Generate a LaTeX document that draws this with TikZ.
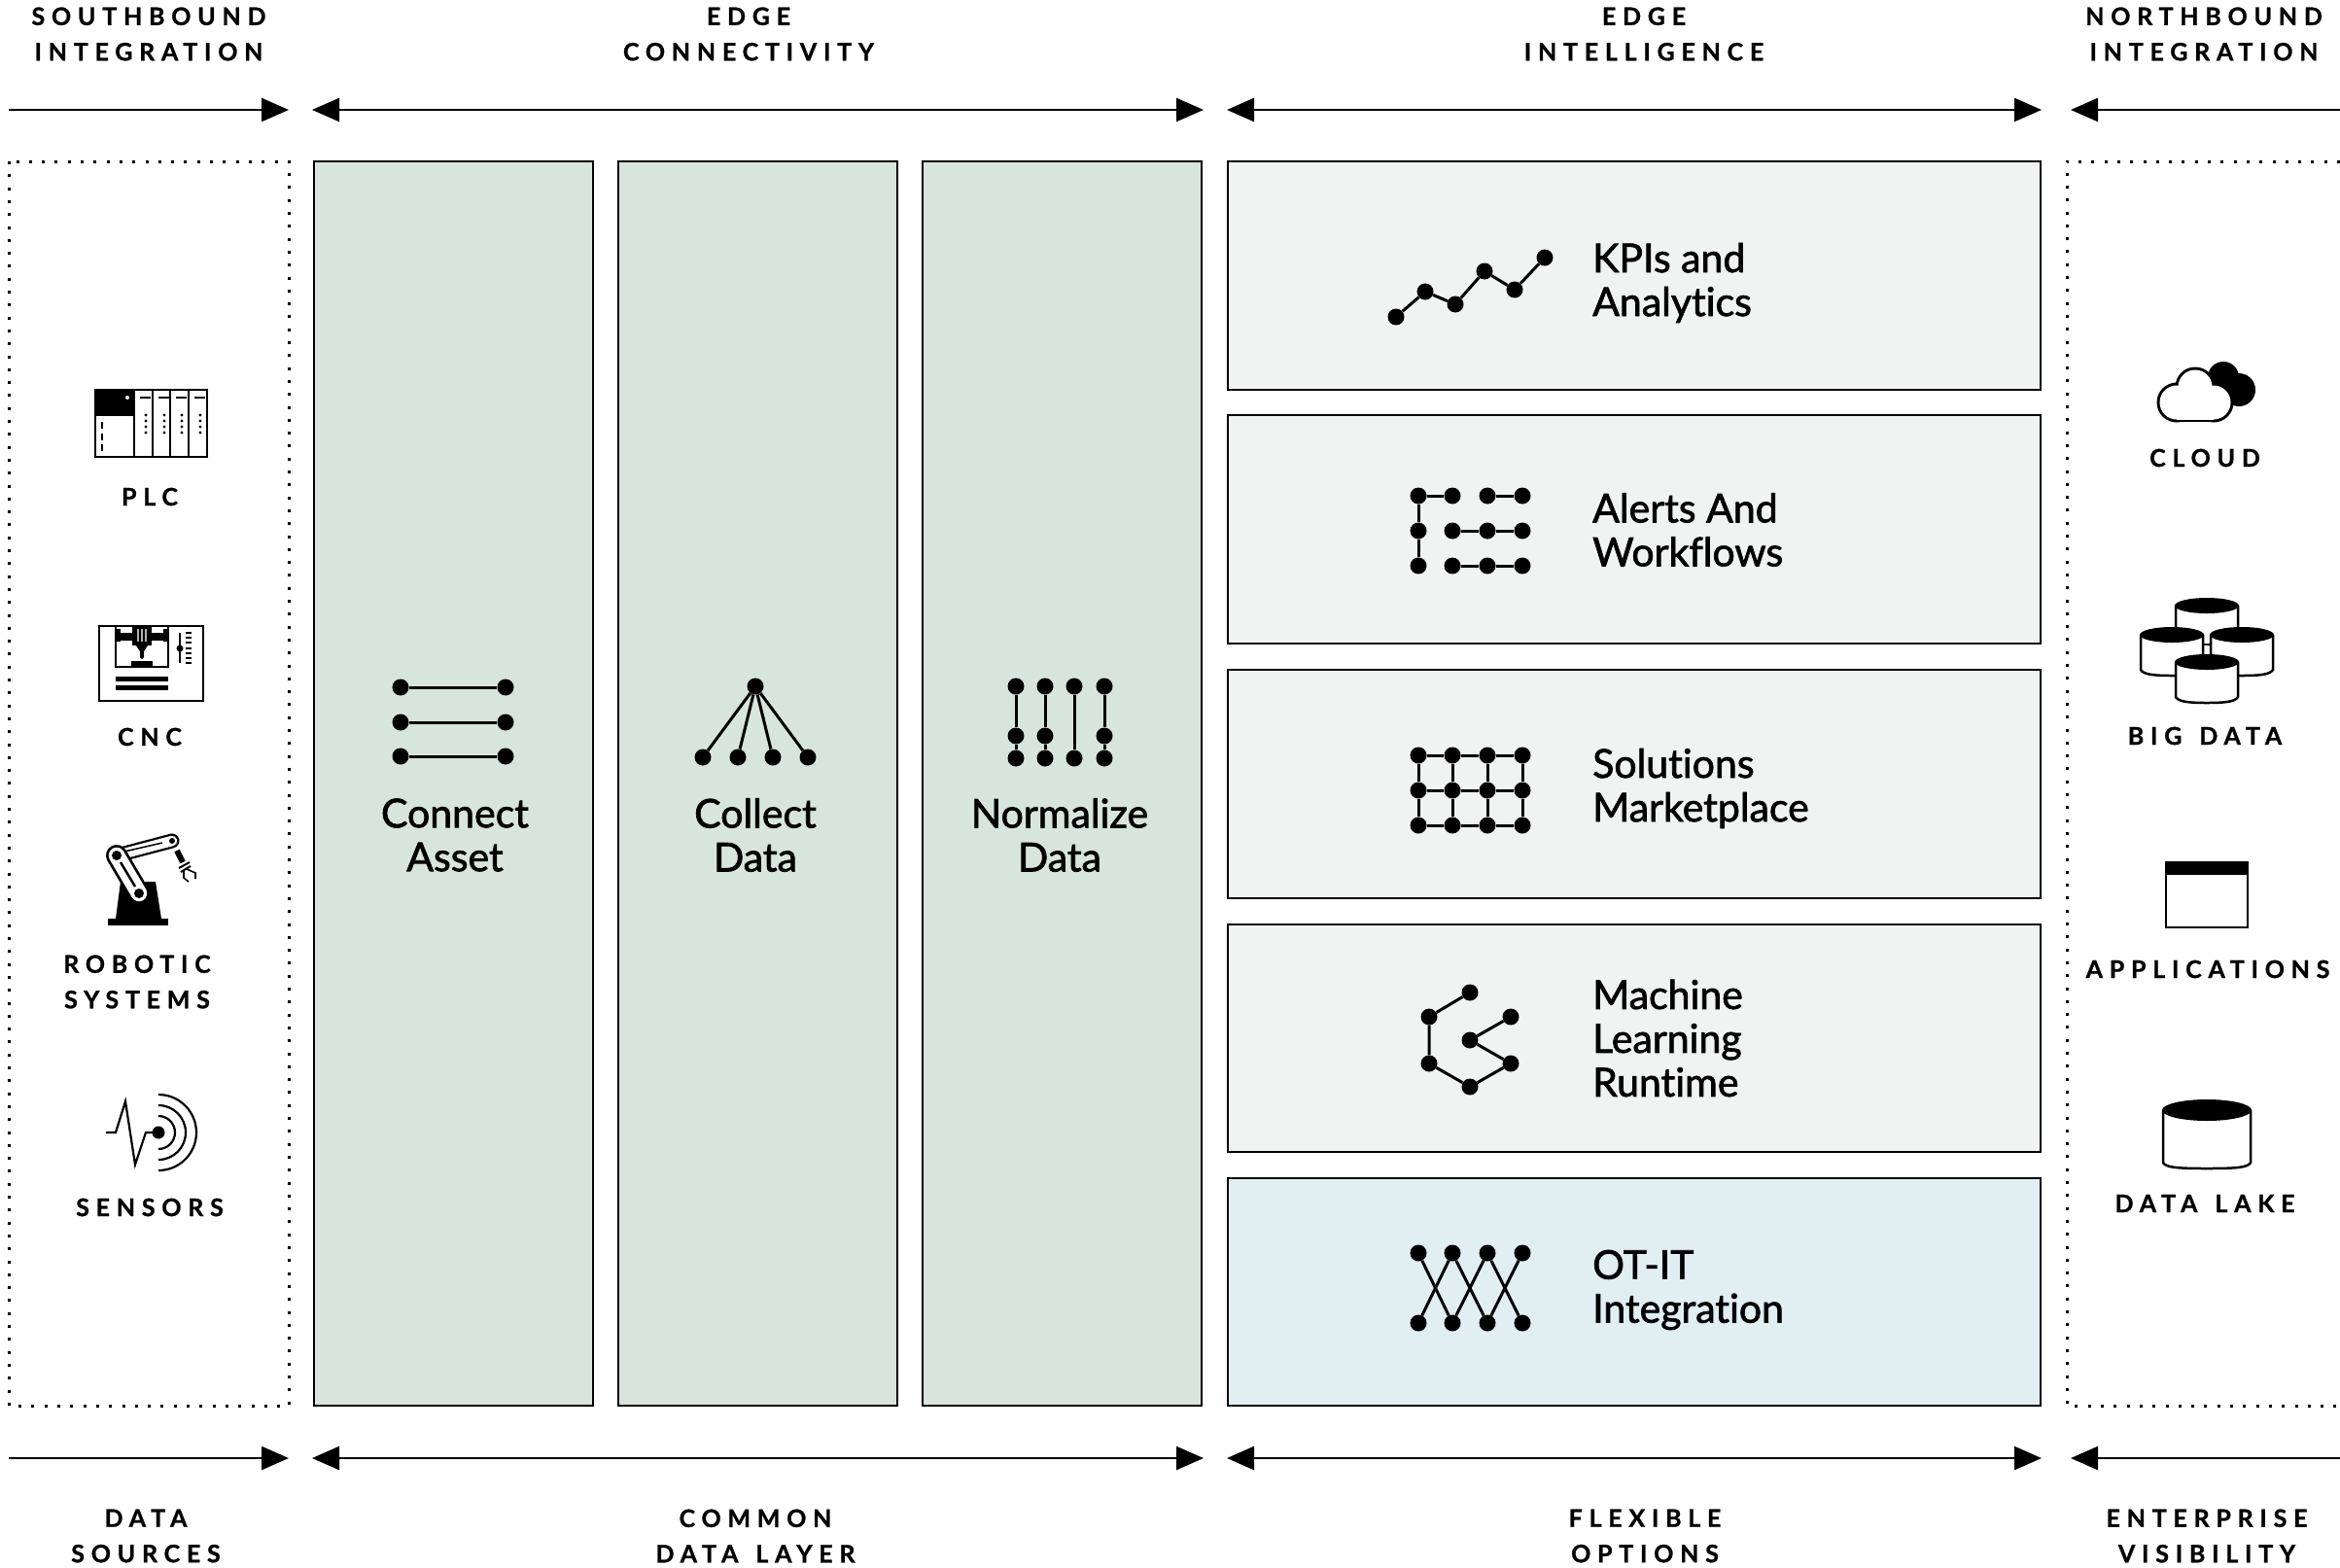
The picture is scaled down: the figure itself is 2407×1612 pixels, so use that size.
\documentclass[tikz,border=0pt]{standalone}
\usepackage{fontspec}
\usetikzlibrary{arrows.meta}
\setmainfont{Lato}
\newfontfamily\capsfont[LetterSpace=27,WordSpace=1.4,FakeBold=1]{Lato}
\newfontfamily\stepfont[FakeBold=1.7,Ligatures=NoCommon]{Lato}
\definecolor{stepgreen}{HTML}{D7E5DE}
\definecolor{stepgray}{HTML}{F1F3F2}
\definecolor{stepblue}{HTML}{E1EEF2}
\tikzset{
  capslabel/.style={font=\capsfont\bfseries\fontsize{25}{36.5}\selectfont,align=center,inner sep=0pt},
  steplabel/.style={font=\stepfont\fontsize{41}{45}\selectfont,align=center,inner sep=0pt},
  rowlabel/.style={font=\stepfont\fontsize{41}{45}\selectfont,align=left,anchor=west,inner sep=0pt},
  panel/.style={draw=black,line width=2.5pt},
  dotbox/.style={line width=3pt,dash pattern=on 3pt off 10.3pt},
  onearrow/.style={line width=2.5pt,-{Triangle[length=28pt,width=24pt]}},
  twoarrow/.style={line width=2.5pt,{Triangle[length=28pt,width=24pt]}-{Triangle[length=28pt,width=24pt]}},
  icondot/.style={circle,fill=black,inner sep=0pt,minimum size=17pt},
  iconline/.style={line width=3pt},
  thinicon/.style={line width=2.2pt}
}
\newcommand{\drum}[5]{
  \fill[white] (#1,#3) -- (#1,#4-6) .. controls (#1+3,#4-1) and (#1+14,#4) .. (#1+#2/2,#4) .. controls (#1+#2-14,#4) and (#1+#2-3,#4-1) .. (#1+#2,#4-6) -- (#1+#2,#3) -- cycle;
  \draw[line width=2.5pt] (#1,#3) -- (#1,#4-6) .. controls (#1+3,#4-1) and (#1+14,#4) .. (#1+#2/2,#4) .. controls (#1+#2-14,#4) and (#1+#2-3,#4-1) .. (#1+#2,#4-6) -- (#1+#2,#3);
  \fill (#1+#2/2,#3) ellipse [x radius=#2/2+1,y radius=#5];
}
\begin{document}
\begin{tikzpicture}[x=1pt,y=-1pt]
\useasboundingbox (0,0) rectangle (2407,1612);

\node[capslabel] (southhead) at (153,35) {SOUTHBOUND\\INTEGRATION};
\node[capslabel] (connhead) at (770,35) {EDGE\\CONNECTIVITY};
\node[capslabel] (intelhead) at (1691,35) {EDGE\\INTELLIGENCE};
\node[capslabel] (northhead) at (2267,35) {NORTHBOUND\\INTEGRATION};

\coordinate (ta) at (9,113);
\coordinate (tb) at (297,113);
\coordinate (tc) at (321,113);
\coordinate (td) at (1238,113);
\coordinate (te) at (1262,113);
\coordinate (tf) at (2100,113);
\coordinate (tg) at (2130,113);
\coordinate (th) at (2407,113);
\draw[onearrow] (ta) -- (tb);
\draw[twoarrow] (tc) -- (td);
\draw[twoarrow] (te) -- (tf);
\draw[onearrow] (th) -- (tg);

\coordinate (ba) at (9,1500);
\coordinate (bb) at (297,1500);
\coordinate (bc) at (321,1500);
\coordinate (bd) at (1238,1500);
\coordinate (be) at (1262,1500);
\coordinate (bf) at (2100,1500);
\coordinate (bg) at (2130,1500);
\coordinate (bh) at (2407,1500);
\draw[onearrow] (ba) -- (bb);
\draw[twoarrow] (bc) -- (bd);
\draw[twoarrow] (be) -- (bf);
\draw[onearrow] (bh) -- (bg);

\node[capslabel] (datafoot) at (150,1580) {DATA\\SOURCES};
\node[capslabel] (commonfoot) at (777,1580) {COMMON\\DATA LAYER};
\node[capslabel] (flexfoot) at (1692,1580) {FLEXIBLE\\OPTIONS};
\node[capslabel] (visfoot) at (2270,1580) {ENTERPRISE\\VISIBILITY};

\draw[dotbox] (9,166) rectangle (297,1446);
\draw[dotbox] (2407,166) -- (2126,166) -- (2126,1446) -- (2407,1446);

\draw[panel,fill=stepgreen] (323,166) rectangle (610,1446);
\draw[panel,fill=stepgreen] (636,166) rectangle (923,1446);
\draw[panel,fill=stepgreen] (949,166) rectangle (1236,1446);
\draw[panel,fill=stepgray] (1263,166) rectangle (2099,401);
\draw[panel,fill=stepgray] (1263,427) rectangle (2099,662);
\draw[panel,fill=stepgray] (1263,689) rectangle (2099,924);
\draw[panel,fill=stepgray] (1263,951) rectangle (2099,1185);
\draw[panel,fill=stepblue] (1263,1212) rectangle (2099,1446);

\node[steplabel] (connect) at (468,859) {Connect\\Asset};
\node[steplabel] (collect) at (777,859) {Collect\\Data};
\node[steplabel] (normal) at (1090,859) {Normalize\\Data};

\node[rowlabel] (kpis) at (1638,291) {KPIs and\\Analytics};
\node[rowlabel] (alerts) at (1638,545) {Alerts And\\Workflows};
\node[rowlabel] (market) at (1638,811) {Solutions\\Marketplace};
\node[rowlabel] (machine) at (1638,1068) {Machine\\Learning\\Runtime};
\node[rowlabel] (otit) at (1638,1327) {OT-IT\\Integration};

\node[icondot] (ca1) at (412,707) {};
\node[icondot] (ca2) at (520,707) {};
\node[icondot] (cb1) at (412,743) {};
\node[icondot] (cb2) at (520,743) {};
\node[icondot] (cc1) at (412,778) {};
\node[icondot] (cc2) at (520,778) {};
\draw[iconline] (ca1) -- (ca2);
\draw[iconline] (cb1) -- (cb2);
\draw[iconline] (cc1) -- (cc2);

\node[icondot] (da) at (777,706) {};
\node[icondot] (d1) at (723,779) {};
\node[icondot] (d2) at (759,779) {};
\node[icondot] (d3) at (795,779) {};
\node[icondot] (d4) at (831,779) {};
\draw[iconline] (da) -- (d1);
\draw[iconline] (da) -- (d2);
\draw[iconline] (da) -- (d3);
\draw[iconline] (da) -- (d4);

\node[icondot] (n1) at (1045,706) {};
\node[icondot] (n2) at (1075,706) {};
\node[icondot] (n3) at (1105,706) {};
\node[icondot] (n4) at (1136,706) {};
\node[icondot] (m1) at (1045,757) {};
\node[icondot] (m2) at (1075,757) {};
\node[icondot] (m4) at (1136,757) {};
\node[icondot] (o1) at (1045,780) {};
\node[icondot] (o2) at (1075,780) {};
\node[icondot] (o3) at (1105,780) {};
\node[icondot] (o4) at (1136,780) {};
\draw[iconline] (n1) -- (m1) -- (o1);
\draw[iconline] (n2) -- (m2) -- (o2);
\draw[iconline] (n3) -- (o3);
\draw[iconline] (n4) -- (m4) -- (o4);

\node[icondot] (k1) at (1436,326) {};
\node[icondot] (k2) at (1466,300) {};
\node[icondot] (k3) at (1497,313) {};
\node[icondot] (k4) at (1527,279) {};
\node[icondot] (k5) at (1558,298) {};
\node[icondot] (k6) at (1589,265) {};
\draw[iconline] (k1) -- (k2) -- (k3) -- (k4) -- (k5) -- (k6);

\node[icondot] (a1) at (1459,510) {};
\node[icondot] (a2) at (1494,510) {};
\node[icondot] (a3) at (1530,510) {};
\node[icondot] (a4) at (1566,510) {};
\node[icondot] (a5) at (1459,546) {};
\node[icondot] (a6) at (1494,546) {};
\node[icondot] (a7) at (1530,546) {};
\node[icondot] (a8) at (1566,546) {};
\node[icondot] (a9) at (1459,582) {};
\node[icondot] (a10) at (1494,582) {};
\node[icondot] (a11) at (1530,582) {};
\node[icondot] (a12) at (1566,582) {};
\draw[iconline] (a2) -- (a1) -- (a5) -- (a9);
\draw[iconline] (a3) -- (a4);
\draw[iconline] (a6) -- (a7) -- (a8);
\draw[iconline] (a10) -- (a11) -- (a12);

\foreach \cx/\cn in {1459/a,1494/b,1530/c,1566/d}
  \foreach \ry/\rn in {777/1,813/2,849/3}
    \node[icondot] (s\cn\rn) at (\cx,\ry) {};
\draw[iconline] (sa1) -- (sb1) -- (sc1) -- (sd1) -- (sd2) -- (sd3) -- (sc3) -- (sb3) -- (sa3) -- (sa2) -- (sa1);
\draw[iconline] (sa2) -- (sb2) -- (sc2) -- (sd2);
\draw[iconline] (sb1) -- (sb2) -- (sb3);
\draw[iconline] (sc1) -- (sc2) -- (sc3);

\node[icondot] (l1) at (1512,1021) {};
\node[icondot] (l2) at (1470,1046) {};
\node[icondot] (l3) at (1470,1094) {};
\node[icondot] (l4) at (1512,1118) {};
\node[icondot] (l5) at (1554,1094) {};
\node[icondot] (l6) at (1512,1070) {};
\node[icondot] (l7) at (1554,1046) {};
\draw[iconline] (l1) -- (l2) -- (l3) -- (l4) -- (l5) -- (l6) -- (l7);

\node[icondot] (t1) at (1459,1289) {};
\node[icondot] (t2) at (1494,1289) {};
\node[icondot] (t3) at (1530,1289) {};
\node[icondot] (t4) at (1566,1289) {};
\node[icondot] (u1) at (1459,1361) {};
\node[icondot] (u2) at (1494,1361) {};
\node[icondot] (u3) at (1530,1361) {};
\node[icondot] (u4) at (1566,1361) {};
\draw[iconline] (t1) -- (u2);
\draw[iconline] (t2) -- (u1);
\draw[iconline] (t2) -- (u3);
\draw[iconline] (t3) -- (u2);
\draw[iconline] (t3) -- (u4);
\draw[iconline] (t4) -- (u3);

\node[capslabel] (plc) at (154,511) {PLC};
\draw[thinicon] (98,401) rectangle (213,470);
\fill (98,401) rectangle (138,428);
\fill[white] (131,409) circle (2);
\draw[thinicon] (105,434) -- (105,441);
\draw[thinicon] (105,446) -- (105,453);
\draw[thinicon] (105,457) -- (105,464);
\foreach \sx in {138,157,175,194}
  \draw[thinicon] (\sx,401) -- (\sx,470);
\foreach \sx in {150,169,187,206} {
  \draw[thinicon] (\sx-6,409) -- (\sx+5,409);
  \foreach \sy in {427,433,439,445}
    \fill (\sx,\sy) circle (1.7);
}

\node[capslabel] (cnc) at (154,758) {CNC};
\draw[thinicon] (102,644) rectangle (209,721);
\draw[thinicon] (119,644) -- (119,686) -- (173,686) -- (173,644);
\fill (119,651) rectangle (173,659);
\fill (119,647) rectangle (124,660);
\fill (168,647) rectangle (173,660);
\fill (136,643) rectangle (156,664);
\draw[gray!60,line width=1.5pt] (142,647) -- (142,660);
\draw[gray!60,line width=1.5pt] (146,647) -- (146,660);
\draw[gray!60,line width=1.5pt] (150,647) -- (150,660);
\fill (140,664) -- (152,664) -- (148,670) -- (148,676) -- (146,678) -- (144,676) -- (144,670) -- cycle;
\fill (135,680) rectangle (157,686);
\fill (119,696) rectangle (173,701);
\fill (119,705) rectangle (173,710);
\draw[thinicon] (185,651) -- (185,682);
\fill (185,667) circle (3.5);
\foreach \ty in {651,656,661,667,672,677,682}
  \draw[line width=1.3pt] (191,\ty) -- (197,\ty);

\node[capslabel] (robotic) at (141,1010) {ROBOTIC\\SYSTEMS};
\fill (111,945) rectangle (173,952);
\fill (124,907) -- (160,907) -- (166,945) -- (119,945) -- cycle;
\draw[line width=15pt,line cap=round] (120,880) -- (177,865);
\draw[white,line width=10.5pt,line cap=round] (120,880) -- (177,865);
\draw[line width=1.5pt] (128,876) -- (167,867);
\draw[line width=22pt,line cap=round] (120,880) -- (143,919);
\draw[white,line width=16.5pt,line cap=round] (120,880) -- (143,919);
\draw[line width=2.5pt] (124,887) -- (139,912);
\fill (120,880) circle (5);
\fill (143,919) circle (5);
\fill (177,865) circle (3);
\draw[line width=6pt] (182,875) -- (188,887);
\draw[line width=2pt] (184,893) -- (195,887);
\draw[line width=2pt] (186,897) -- (196,891);
\draw[line width=1.6pt] (189,896) -- (189,903) -- (194,907);
\draw[line width=1.6pt] (192,894) -- (201,898) -- (201,904);

\node[capslabel] (sensors) at (154,1242) {SENSORS};
\draw[thinicon] (109,1165) -- (119,1165) -- (129,1133) -- (139,1198) -- (150,1165) -- (163,1165);
\fill (163,1165) circle (6.5);
\draw[thinicon] (163,1148) arc[start angle=-90,end angle=90,radius=17];
\draw[thinicon] (163,1137) arc[start angle=-90,end angle=90,radius=28];
\draw[thinicon] (163,1126) arc[start angle=-90,end angle=90,radius=39];

\node[capslabel] (cloud) at (2268,471) {CLOUD};
\fill (2287,388) circle (16);
\fill (2303,401) circle (17);
\fill (2239,414) circle (20.5);
\fill (2258,398) circle (20.5);
\fill (2277,414) circle (20.5);
\fill[white] (2239,414) circle (17.5);
\fill[white] (2258,398) circle (17.5);
\fill[white] (2277,414) circle (17.5);
\fill[white] (2239,414) rectangle (2277,431.5);
\draw[line width=2.5pt] (2239,433) -- (2277,433);

\node[capslabel] (bigdata) at (2268,757) {BIG DATA};
\drum{2238}{64}{623}{680}{8}
\draw[line width=2.5pt] (2266,663) -- (2274,663);
\drum{2202}{64}{653}{695}{8}
\drum{2274}{64}{653}{695}{8}
\drum{2238}{64}{681}{723}{8}

\node[capslabel] (apps) at (2271,997) {APPLICATIONS};
\fill[white] (2228,887) rectangle (2312,954);
\draw[line width=2.5pt] (2228,887) rectangle (2312,954);
\fill (2228,887) rectangle (2312,900);

\node[capslabel] (lake) at (2268,1238) {DATA LAKE};
\drum{2225}{90}{1142}{1202}{11}
\end{tikzpicture}
\end{document}
